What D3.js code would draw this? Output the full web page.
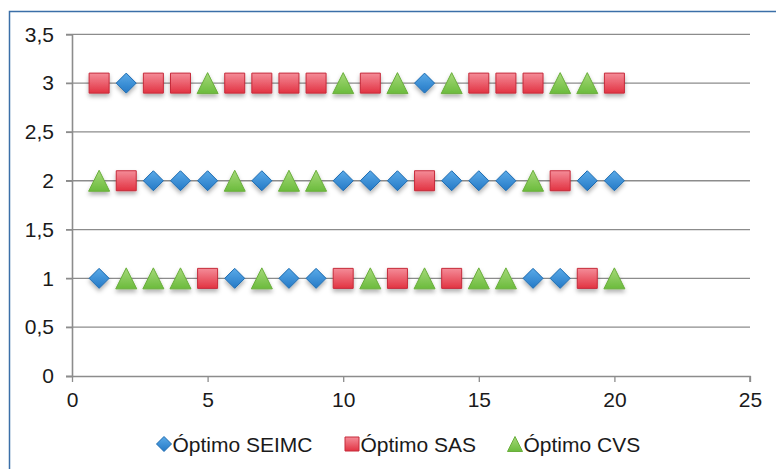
<!DOCTYPE html>
<html><head><meta charset="utf-8">
<script src="https://cdn.jsdelivr.net/npm/d3@7"></script>
<style>html,body{margin:0;padding:0;background:#fff;}svg{display:block;}</style>
</head><body>
<script>
const cases = d3.range(1, 21);
const seimc = [1,3,2,2,2,1,2,1,1,2,2,2,3,2,2,2,1,1,2,2];
const sas   = [3,2,3,3,1,3,3,3,3,1,3,1,2,1,3,3,3,2,1,3];
const cvs   = [2,1,1,1,3,2,1,2,2,3,1,3,1,3,1,1,2,3,3,1];
const seriesNames = ["Óptimo SEIMC", "Óptimo SAS", "Óptimo CVS"];
const xTicks = [0,5,10,15,20,25];
const yTicks = [0,0.5,1,1.5,2,2.5,3,3.5];

const W = 776, H = 469;
const svg = d3.select("body").append("svg").attr("width", W).attr("height", H);
const font = "'Liberation Sans', Arial, sans-serif";

const defs = svg.append("defs");
const f = defs.append("filter").attr("id","sh").attr("x","-50%").attr("y","-50%").attr("width","200%").attr("height","200%");
f.append("feDropShadow").attr("dx",0).attr("dy",3).attr("stdDeviation",2).attr("flood-color","#000").attr("flood-opacity",0.3);
function grad(id, c1, c2){
  const g = defs.append("linearGradient").attr("id",id).attr("x1",0).attr("y1",0).attr("x2",0).attr("y2",1);
  g.append("stop").attr("offset","0%").attr("stop-color",c1);
  g.append("stop").attr("offset","100%").attr("stop-color",c2);
}
grad("gB","#5aaae8","#2479c6");
grad("gR","#f48c98","#e23342");
grad("gG","#a6d97a","#6bbb3c");

svg.append("rect").attr("x",9.5).attr("y",11.5).attr("width",W).attr("height",H).attr("fill","#fff").attr("stroke","#3b6fa8").attr("stroke-width",1.5);

const x = d3.scaleLinear().domain([0,25]).range([72,750]);
const y = d3.scaleLinear().domain([0,3.5]).range([376,34.3]);

// gridlines
svg.append("g").selectAll("line").data(yTicks.filter(d=>d>0)).join("line")
  .attr("x1", x(0)-6).attr("x2", x(25)).attr("y1", d=>y(d)).attr("y2", d=>y(d))
  .attr("stroke","#8c8c8c").attr("stroke-width",1.3);

const yAxis = svg.append("g").attr("transform",`translate(${x(0)},0)`)
  .call(d3.axisLeft(y).tickValues(yTicks).tickSize(6).tickPadding(12).tickFormat(d=>String(d).replace(".",",")));
const xAxis = svg.append("g").attr("transform",`translate(0,${y(0)})`)
  .call(d3.axisBottom(x).tickValues(xTicks).tickSize(6).tickPadding(10));
[yAxis,xAxis].forEach(a=>{
  a.select(".domain").attr("stroke","#8c8c8c").attr("stroke-width",1.6);
  a.selectAll(".tick line").attr("stroke","#8c8c8c").attr("stroke-width",1.3);
  a.selectAll("text").attr("font-family",font).attr("font-size",21).attr("fill","#1a1a1a");
});
xAxis.select(".domain").attr("d", `M${x(0)-6},0.5H${x(25)}V6`);

const sym = {
  diamond: s => `M0,${-s/2}L${s/2},0L0,${s/2}L${-s/2},0Z`,
  square: s => `M${-s/2},${-s/2}H${s/2}V${s/2}H${-s/2}Z`,
  triangle: s => `M0,${-s/2}L${s/2},${s/2}H${-s/2}Z`
};
const series = [
  {name: seriesNames[0], vals: seimc, shape:"diamond", size:20, fill:"url(#gB)", stroke:"#1d6bb0"},
  {name: seriesNames[1], vals: sas, shape:"square", size:20, fill:"url(#gR)", stroke:"#c62a3a"},
  {name: seriesNames[2], vals: cvs, shape:"triangle", size:21, fill:"url(#gG)", stroke:"#6aae3c"}
];
series.forEach(s=>{
  svg.append("g").selectAll("path").data(cases.map((c,i)=>({x:c,y:s.vals[i]}))).join("path")
    .attr("transform", d=>`translate(${x(d.x)},${y(d.y)})`)
    .attr("d", sym[s.shape](s.size))
    .attr("fill", s.fill).attr("stroke", s.stroke).attr("stroke-width",1)
    .attr("filter","url(#sh)");
});

// legend
const legX = [164, 352, 515];
const lg = svg.append("g");
series.forEach((s,i)=>{
  lg.append("path").attr("transform",`translate(${legX[i]},444)`).attr("d", sym[s.shape](s.shape==="square"?14:15))
    .attr("fill", s.fill).attr("stroke", s.stroke).attr("stroke-width",1);
  lg.append("text").attr("x", legX[i]+8.5).attr("y", 452).attr("font-family",font).attr("font-size",21)
    .attr("fill","#1a1a1a").text(s.name);
});
</script>
</body></html>
